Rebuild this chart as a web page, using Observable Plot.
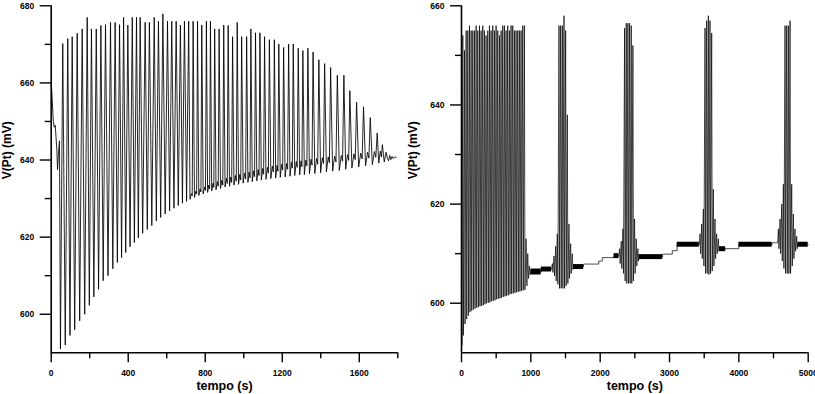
<!DOCTYPE html>
<html><head><meta charset="utf-8">
<script src="https://cdn.jsdelivr.net/npm/d3@7"></script>
<script src="https://cdn.jsdelivr.net/npm/@observablehq/plot@0.6"></script>
<style>
html,body{margin:0;padding:0;background:#fff;overflow:hidden;}
#wrap{display:flex;width:815px;height:394px;overflow:hidden;}
#wrap svg{flex:none;}
</style></head><body><div id="wrap"></div>
<script>
// ---------- LEFT PANEL DATA ----------
const leftStartT = [0, 3, 7, 11, 16, 21, 25, 29, 33, 38, 43, 48];
const leftStartV = [660, 658, 654, 650, 648.5, 649, 646, 643, 637.5, 642, 645, 591];
const leftPeakT = [60,86,109,135,161,187,209,234,258,282,308,332,355,376,398,421,443,462,488,510,535,557,580,604,626,649,671,692,714,737,760,782,806,827,849,872,896,919,942,966,989,1015,1037,1061,1084,1108,1133,1159,1182,1207,1233,1257,1283,1307,1333,1360,1390,1420,1451,1486,1520,1551,1586,1622,1657,1693,1720];
const leftPeakV = [670.2,671.5,672,672.9,674,677,674,674,674.9,675.1,675.7,675.7,675.1,677,675,677,677,677,675.7,675.7,677,676,677.9,676,676,676,675,676,676,676,676,675,676,676,674,674,675,674.9,672,675.7,672,672,674,673,673,672,671.2,671.2,670.1,669.2,670.1,670.1,669,668.4,669,668,666,665,664,662,662,658,655,653.8,651,647,644];
const leftTroughV = [592,594.5,596,598.3,600,602.3,604.5,606.5,608.7,610,611.8,613.4,614.7,616,617.5,618.6,619.8,621,622,623,624.2,625.1,626,626.8,627.5,628.2,628.8,629.3,629.8,630.3,630.8,631.2,631.6,632,632.3,632.6,633,633.2,633.5,633.7,634,634.2,634.4,634.6,634.8,635,635.2,635.3,635.5,635.6,635.8,636,636.1,636.2,636.4,636.5,636.7,636.9,637.1,637.3,637.6,637.9,638.2,638.5,638.8,639.2,639.5];
// small wiggle (hump, then dip) after each spike, for cycles from index 28 onward
const leftHumpStart = 28;
const leftHumpV = [631.3,631.9,632.5,633,633.5,634,634.4,634.8,635.3,635.6,636,636.3,636.6,636.9,637.2,637.5,637.8,638.1,638.4,638.6,638.9,639.1,639.4,639.6,639.8,640,640.2,640.4,640.6,640.8,641,641.2,641.4,641.6,641.8,642,642.2,642.3,642];
const leftDipV  = [630.7,631.2,631.7,632.1,632.5,632.9,633.2,633.5,633.9,634.2,634.5,634.8,635.1,635.4,635.7,636,636.3,636.6,636.9,637.1,637.4,637.6,637.9,638.1,638.3,638.5,638.7,638.9,639.1,639.3,639.5,639.7,639.9,640.1,640.3,640.5,640.7,640.8,640.6];
const leftTailT = [1752, 1758, 1764, 1770, 1776, 1782, 1788, 1792];
const leftTailV = [639.8, 641.2, 640.1, 640.9, 640.4, 640.8, 640.8, 640.6];
const leftYMajor = [600, 620, 640, 660, 680];
const leftYMinor = [610, 630, 650, 670];
const leftXMajor = [0, 400, 800, 1200, 1600];
const leftXMinor = [200, 600, 1000, 1400, 1800];

// ---------- RIGHT PANEL DATA ----------
const rightStartT = [0, 6];
const rightStartV = [630, 591.5];
const r1PeakT = [19,43,67,91,115,139,163,187,211,235,259,283,307,331,355,379,403,427,451,475,499,523,547,571,595,619,643,667,691,715,739,763,787,811,835,859,883,907];
const r1PeakV = [654,651,655,655,656,655,655,655,656,655,656,655,656,655,654,655,656,655,656,655,656,655,654,655,656,656,655,656,655,656,656,655,655,655,655,655,656,656];
const r1TroughV = [593.5,595.8,596.8,597.5,598.2,598.5,598.7,598.9,599.1,599.2,599.4,599.5,599.6,599.8,600,600.1,600.2,600.4,600.5,600.6,600.8,600.9,601,601.1,601.3,601.4,601.5,601.6,601.8,601.9,602,602.1,602.2,602.3,602.4,602.5,602.6,602.7];
const r1TailT = [931, 943, 955, 967, 979, 991];
const r1TailV = [613, 603.5, 610, 605, 607.5, 605.8];
// quiet baseline segments between bursts (value and half-range of the fast ripple, mV)
const rightBaseT0 = [1000, 1150, 1615, 1760, 1980, 2030, 2200, 2560, 2900, 3040, 3110, 3720, 3810, 4000, 4480, 4850];
const rightBaseT1 = [1150, 1300, 1760, 1980, 2030, 2200, 2270, 2900, 3040, 3110, 3430, 3810, 4000, 4480, 4560, 5000];
const rightBaseV  = [606.3, 606.8, 607.3, 607.9, 608.5, 609.2, 609.5, 609.3, 609.9, 610.6, 611.8, 610.9, 611, 611.8, 612.2, 611.8];
const rightBaseNoise = [0.6, 0.5, 0.5, 0, 0, 0, 0.5, 0.5, 0, 0, 0.5, 0.5, 0, 0.5, 0, 0.5];
// bursts
const b2T = [1310,1334,1358,1382,1406,1430,1454,1478,1502,1526,1550,1574,1598];
const b2P = [608,609.5,611.5,614,656,656,656,658,655,638,616,612,610];
const b2Tr = [606.2,605.5,604.5,603.8,603,603,603,603,603.5,604,605,606,606.8];
const b3T = [2280,2304,2328,2352,2376,2400,2424,2448,2472,2496,2520,2544];
const b3P = [611,612.5,615,655.5,656.5,656.5,656.5,656,652,617,613,611];
const b3Tr = [608,607,606,604.5,604,604,604,604,604.5,606,607.5,608.5];
const b4T = [3440,3464,3488,3512,3536,3560,3584,3608,3632,3656,3680,3704];
const b4P = [614,616,619,655.5,657,658,657,654.5,623,617,614,613];
const b4Tr = [610,609,607.5,606,606,605.8,606,606.5,607.5,609,610,610.5];
const b5T = [4570,4594,4618,4642,4666,4690,4714,4738,4762,4786,4810,4834];
const b5P = [615,617,620,624,656,656,656,657,624,618,615,613.5];
const b5Tr = [611,610,608.5,607,606,606,606,606,607.5,609,610.5,611];
const rightYMajor = [600, 620, 640, 660];
const rightYMinor = [610, 630, 650];
const rightXMajor = [0, 1000, 2000, 3000, 4000, 5000];
const rightXMinor = [500, 1500, 2500, 3500, 4500];

// ---------- BUILD SERIES ----------
const leftPts = [];
leftStartT.forEach((t, i) => leftPts.push({t, v: leftStartV[i]}));
leftPeakT.forEach((t, i) => {
  const next = i + 1 < leftPeakT.length ? leftPeakT[i + 1] : leftTailT[0];
  const P = next - t;
  leftPts.push({t, v: leftPeakV[i]});
  if (i >= leftHumpStart) {
    const k = i - leftHumpStart;
    leftPts.push({t: t + 0.3 * P, v: leftTroughV[i]});
    leftPts.push({t: t + 0.6 * P, v: leftHumpV[k]});
    leftPts.push({t: t + 0.8 * P, v: leftDipV[k]});
  } else {
    leftPts.push({t: t + 0.5 * P, v: leftTroughV[i]});
  }
});
leftTailT.forEach((t, i) => leftPts.push({t, v: leftTailV[i]}));

const SPIKE_FALL = 8; // s from peak to trough
const rightPts = [];
rightStartT.forEach((t, i) => rightPts.push({t, v: rightStartV[i]}));
r1PeakT.forEach((t, i) => { rightPts.push({t, v: r1PeakV[i]}); rightPts.push({t: t + SPIKE_FALL, v: r1TroughV[i]}); });
r1TailT.forEach((t, i) => rightPts.push({t, v: r1TailV[i]}));
const later = [];
rightBaseT0.forEach((t0, i) => { later.push({t: t0, v: rightBaseV[i]}, {t: rightBaseT1[i], v: rightBaseV[i]}); });
[[b2T, b2P, b2Tr], [b3T, b3P, b3Tr], [b4T, b4P, b4Tr], [b5T, b5P, b5Tr]].forEach(([T, P, Tr]) => {
  T.forEach((t, i) => { later.push({t, v: P[i]}, {t: t + SPIKE_FALL, v: Tr[i]}); });
});
later.sort((a, b) => a.t - b.t);
rightPts.push(...later);
const bands = rightBaseT0.map((t0, i) => ({t0, t1: rightBaseT1[i], v: rightBaseV[i], a: rightBaseNoise[i]})).filter(d => d.a > 0);

const FONT = "'Liberation Sans', Arial, sans-serif";

function panel({data, bandData, width, ml, mr, xDomain, yDomain, xMaj, xMin, yMaj, yMin, ylabDx, sw}) {
  return Plot.plot({
    width, height: 394,
    marginLeft: ml, marginRight: mr, marginTop: 5.3, marginBottom: 41.7,
    style: {fontFamily: FONT, fontWeight: "bold", fontSize: "8.5px", color: "#000", background: "#fff", overflow: "visible"},
    x: {domain: xDomain, axis: null},
    y: {domain: yDomain, axis: null},
    marks: [
      bandData ? Plot.rect(bandData, {x1: "t0", x2: "t1", y1: d => d.v - d.a, y2: d => d.v + d.a, fill: "#000"}) : null,
      Plot.line(data, {x: "t", y: "v", stroke: "#000", strokeWidth: sw}),
      Plot.ruleX([xDomain[0]], {stroke: "#000", strokeWidth: 1.6}),
      Plot.ruleY([yDomain[0]], {stroke: "#000", strokeWidth: 1.6}),
      Plot.axisY(yMaj, {anchor: "left", tickSize: 11, tickPadding: 6, tickFormat: d3.format("d"), stroke: "#000", strokeWidth: 1.4, fontSize: 8.5, fontWeight: "bold", label: null}),
      Plot.axisY(yMin, {anchor: "left", tickSize: 6, text: null, stroke: "#000", strokeWidth: 1.4, label: null}),
      Plot.axisX(xMaj, {anchor: "bottom", tickSize: 10, tickPadding: 7, tickFormat: d3.format("d"), stroke: "#000", strokeWidth: 1.4, fontSize: 8.5, fontWeight: "bold", label: null}),
      Plot.axisX(xMin, {anchor: "bottom", tickSize: 6, text: null, stroke: "#000", strokeWidth: 1.4, label: null}),
      Plot.text(["tempo (s)"], {frameAnchor: "bottom", dy: 37, fontSize: 12.5, fontWeight: "bold", fill: "#000"}),
      Plot.text(["V(Pt) (mV)"], {frameAnchor: "left", dx: ylabDx, rotate: -90, fontSize: 12, fontWeight: "bold", fill: "#000"})
    ]
  });
}

const wrap = document.getElementById("wrap");
wrap.append(panel({data: leftPts, bandData: null, width: 408, ml: 50.7, mr: 10.7, sw: 0.85,
  xDomain: [0, 1800], yDomain: [590, 680], xMaj: leftXMajor, xMin: leftXMinor, yMaj: leftYMajor, yMin: leftYMinor, ylabDx: -44.5}));
wrap.append(panel({data: rightPts, bandData: bands, width: 407, ml: 53, mr: 7.3, sw: 0.7,
  xDomain: [0, 5000], yDomain: [590, 660], xMaj: rightXMajor, xMin: rightXMinor, yMaj: rightYMajor, yMin: rightYMinor, ylabDx: -48.3}));
</script>
</body></html>
